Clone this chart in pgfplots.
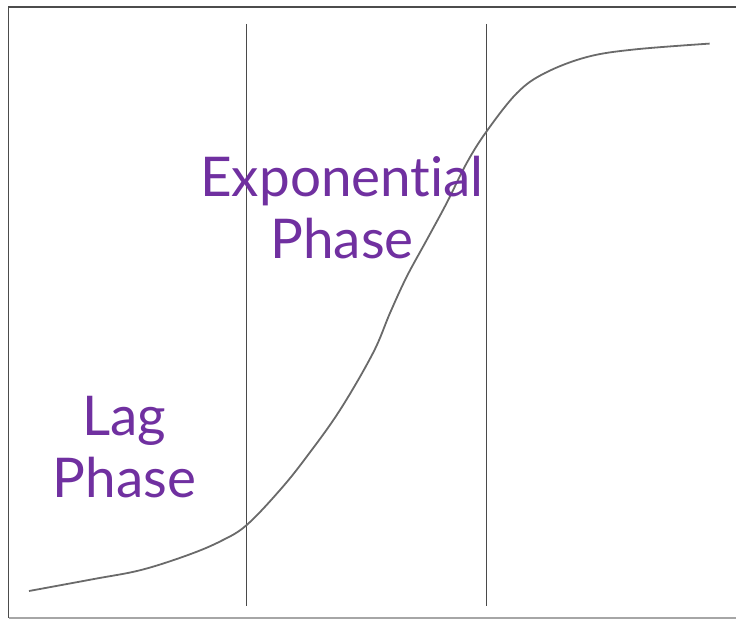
\documentclass[border=0pt]{standalone}
\usepackage{pgfplots}
\pgfplotsset{compat=1.18}
\usepackage{fontspec}
\setmainfont{Lato}[Ligatures={NoCommon,NoRequired,NoContextual}]
\definecolor{phasepurple}{HTML}{7030A0}
\definecolor{curvegray}{HTML}{6A6A6A}
\definecolor{linegray}{HTML}{4A4A4A}
\begin{document}
\begin{tikzpicture}
\begin{axis}[
  width=737bp, height=621bp, scale only axis,
  xmin=0, xmax=737, ymin=0, ymax=621, y dir=reverse,
  axis lines=none, clip=false,
]
\path (axis cs:0,0) rectangle (axis cs:737,621);
% frame
\addplot[color=gray!60!black, line width=1.5bp] coordinates {(8.5,618) (8.5,7) (736,7)};
\addplot[color=gray!70, line width=1.3bp] coordinates {(8.5,618) (736,618)};
% phase boundaries
\addplot[color=linegray, line width=1.2bp] coordinates {(246.8,24) (246.8,606)};
\addplot[color=linegray, line width=1.2bp] coordinates {(486.6,24) (486.6,606)};
% growth curve
\addplot[color=curvegray, line width=1.8bp, smooth, tension=0.6] coordinates {
(29,591) (94,579) (141,570) (188,555) (221,541) (246.7,525)
(280,490) (306.7,456.7) (340,410) (373,353) (390,313) (406.7,276.7)
(426.7,240) (446.7,203) (466.7,163) (486.5,131.5) (517,93) (545,73)
(587,57) (634,49.5) (709.6,43.6)};
% labels
\node[anchor=base, text=phasepurple, font=\fontsize{55}{60}\selectfont] at (axis cs:342,196) {Exponential};
\node[anchor=base, text=phasepurple, font=\fontsize{55}{60}\selectfont] at (axis cs:342,258) {Phase};
\node[anchor=base, text=phasepurple, font=\fontsize{55}{60}\selectfont] at (axis cs:124.5,435) {Lag};
\node[anchor=base, text=phasepurple, font=\fontsize{55}{60}\selectfont] at (axis cs:124.5,497) {Phase};
\end{axis}
\end{tikzpicture}
\end{document}
